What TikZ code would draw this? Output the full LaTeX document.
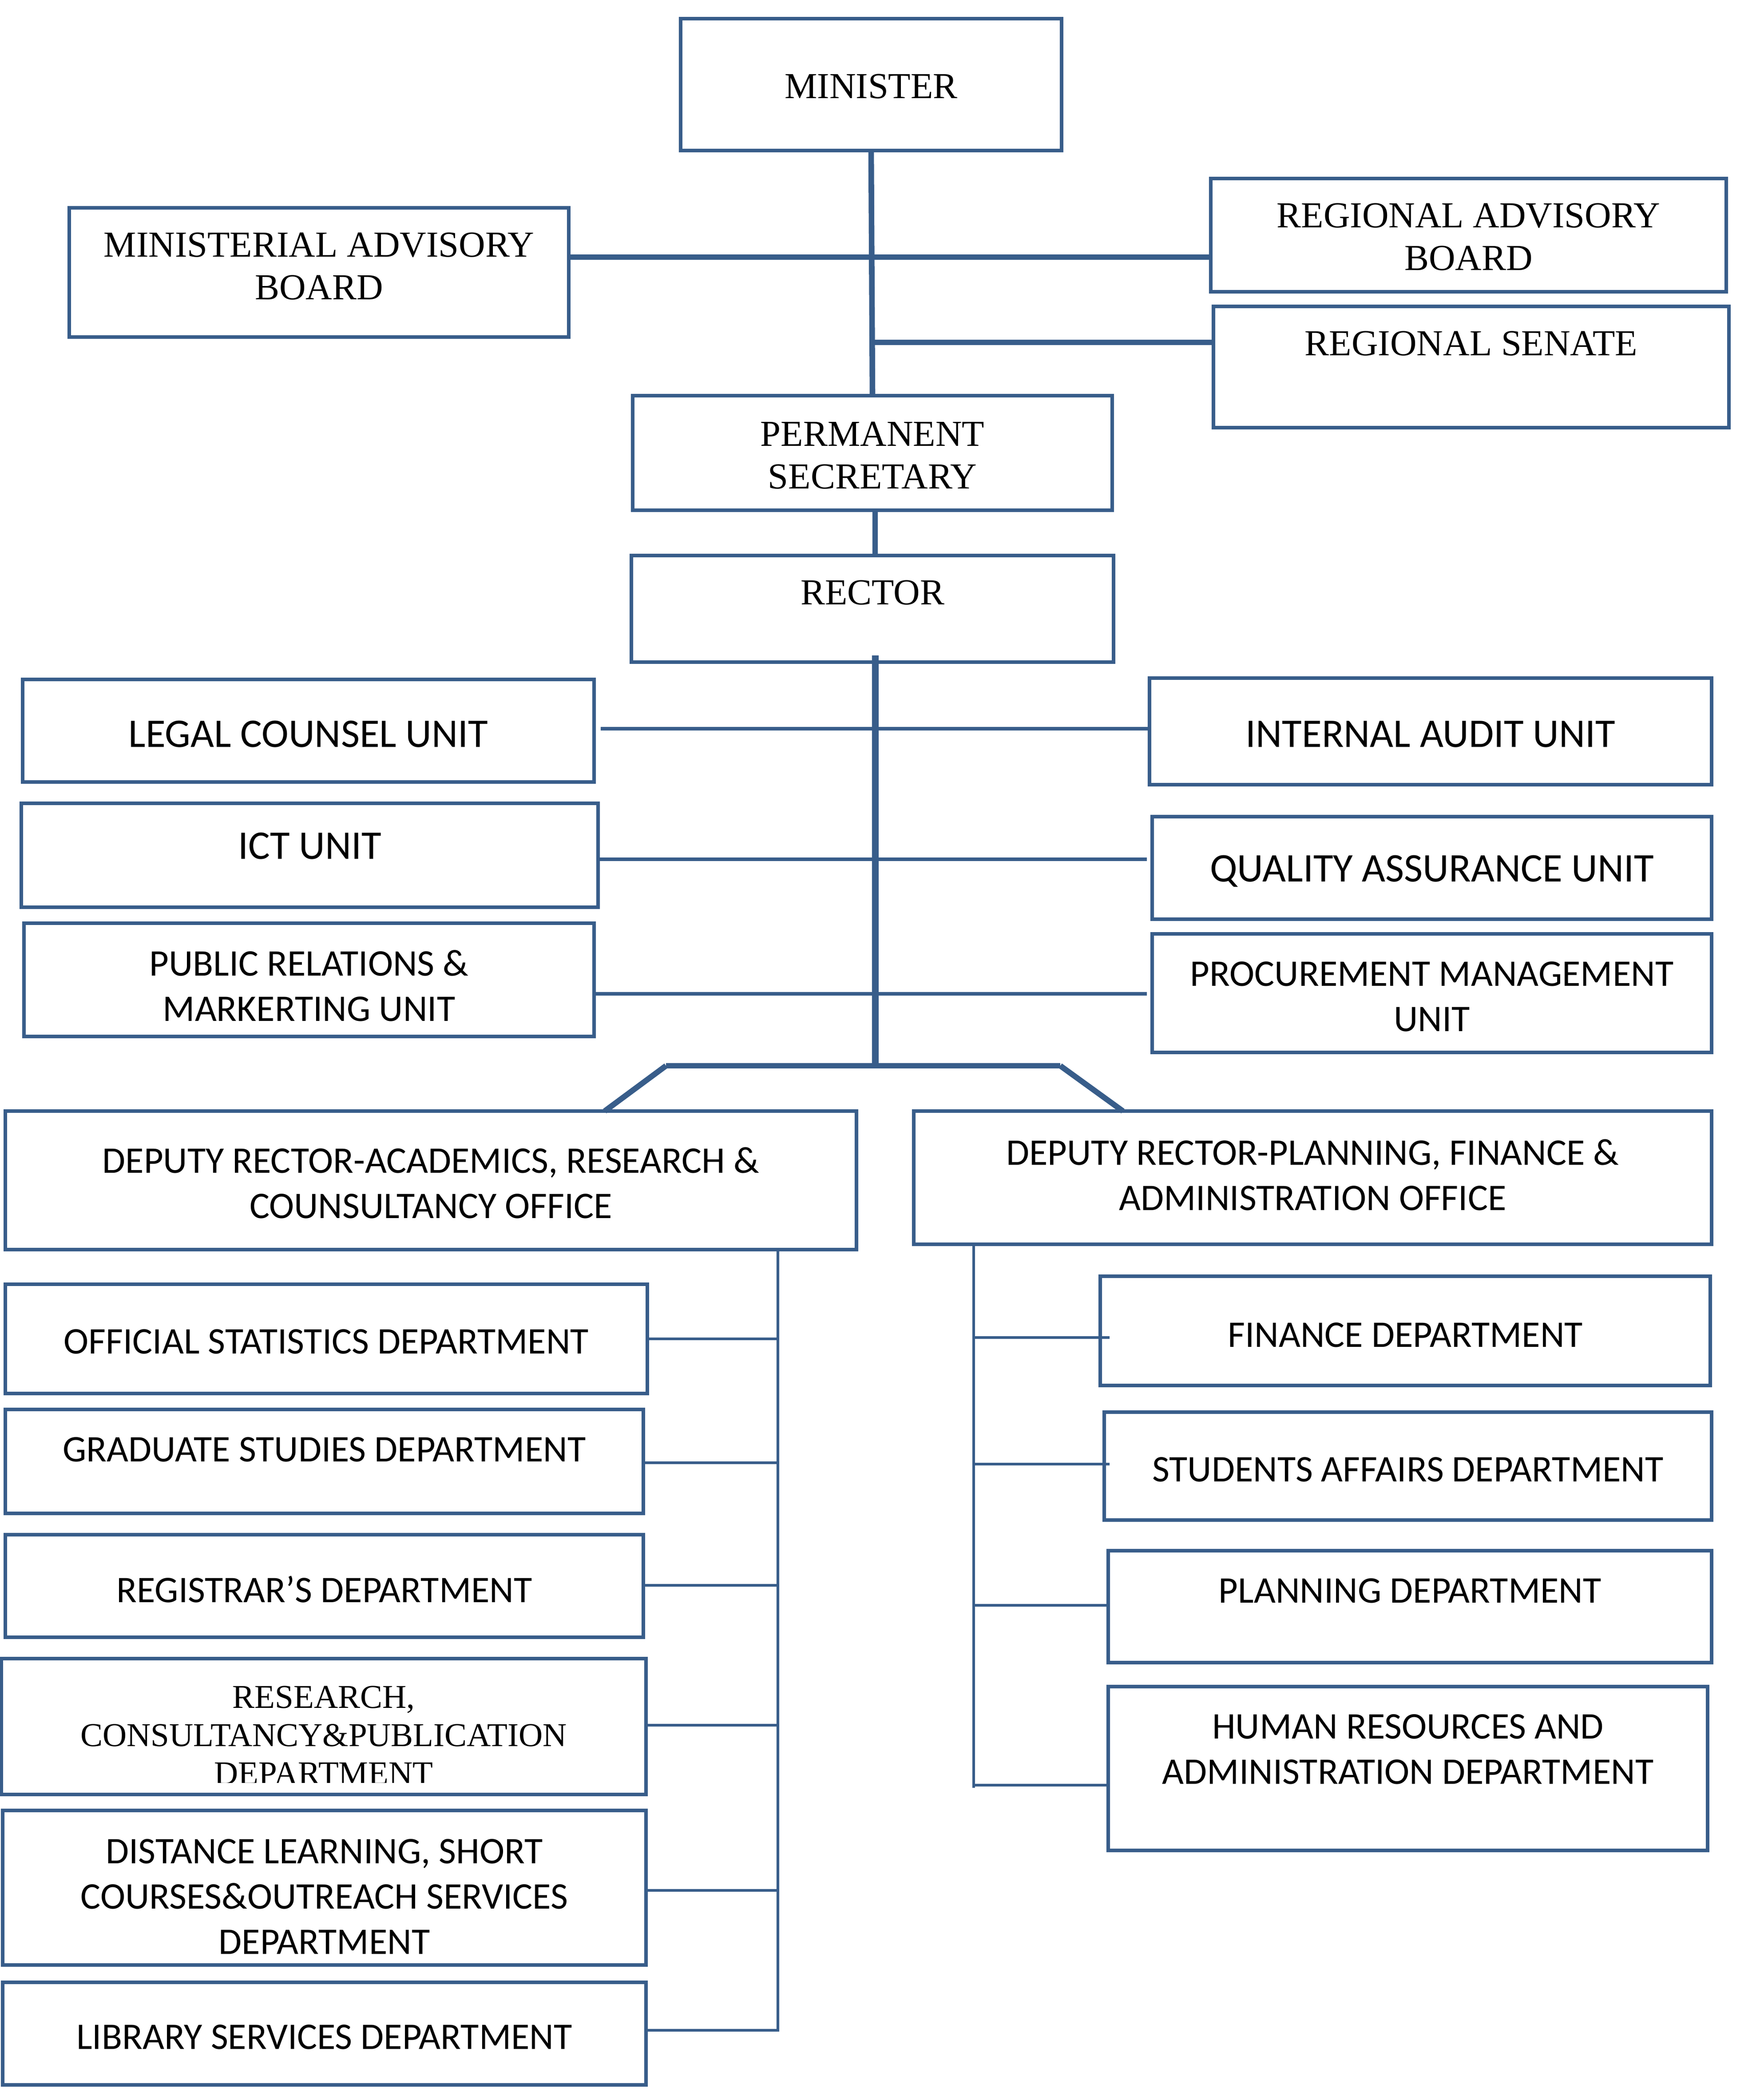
\documentclass[tikz,border=0pt]{standalone}
\usepackage{fontspec}
\setmainfont{Liberation Serif}
\newfontfamily\calfont{Carlito}
\definecolor{bx}{RGB}{56,93,138}
\newcommand\orgbox[8]{%
  \node[obox, minimum width={(#4-#2)*1pt}, minimum height={(#5-#3)*1pt}] (#1) at ({(#2+#4)/2},{(#3+#5)/2}) {};
  \node[#7] (#1-t) at ({(#2+#4)/2},#6) {#8};}
\begin{document}
\begin{tikzpicture}[x=1pt,y=-1pt,
  obox/.style={draw=bx, line width=2.5pt, inner sep=0pt, outer sep=0pt},
  sans/.style={font=\calfont\fontsize{28.2}{34}\selectfont, align=center, inner sep=0pt},
  sansL/.style={font=\calfont\fontsize{30.5}{34}\selectfont, align=center, inner sep=0pt},
  serif/.style={font=\rmfamily\fontsize{27.5}{32}\selectfont, align=center, inner sep=0pt},
  serifs/.style={font=\rmfamily\fontsize{25}{28.6}\selectfont, align=center, inner sep=0pt},
  lnK/.style={draw=bx, line width=4.2pt},
  lnR/.style={draw=bx, line width=5pt},
  lnM/.style={draw=bx, line width=2.4pt},
  lnT/.style={draw=bx, line width=1.8pt}]
\fill[white] (0,0) rectangle (1324.33,1570.33);
\useasboundingbox (0,0) rectangle (1324.33,1570.33);

% top level
\orgbox{min}{511}{14}{797}{113}{65}{serif}{MINISTER}
\orgbox{mab}{52}{156}{427}{253}{200}{serif}{MINISTERIAL ADVISORY\\BOARD}
\orgbox{rab}{909}{134}{1296}{219}{178}{serif}{REGIONAL ADVISORY\\BOARD}
\orgbox{rs}{911}{230}{1298}{321}{258}{serif}{REGIONAL SENATE}
\orgbox{ps}{475}{297}{835}{383}{342}{serif}{PERMANENT\\SECRETARY}
\orgbox{rec}{474}{417}{836}{497}{445}{serif}{RECTOR}

% units
\orgbox{lc}{17}{510}{446}{587}{551}{sansL}{LEGAL COUNSEL UNIT}
\orgbox{ia}{863}{509}{1285}{589}{551}{sansL}{INTERNAL AUDIT UNIT}
\orgbox{ict}{16}{603}{449}{681}{635}{sansL}{ICT UNIT}
\orgbox{qa}{865}{613}{1285}{690}{654}{sansL}{QUALITY ASSURANCE UNIT}
\orgbox{pr}{18}{693}{446}{778}{740}{sans}{PUBLIC RELATIONS \&\\MARKERTING UNIT}
\orgbox{pm}{865}{701}{1285}{790}{748}{sans}{PROCUREMENT MANAGEMENT\\UNIT}

% deputy rectors
\orgbox{dra}{4}{834}{643}{938}{888}{sans}{DEPUTY RECTOR-ACADEMICS, RESEARCH \&\\COUNSULTANCY OFFICE}
\orgbox{drp}{686}{834}{1285}{934}{882}{sans}{DEPUTY RECTOR-PLANNING, FINANCE \&\\ADMINISTRATION OFFICE}

% left departments
\orgbox{osd}{4}{964}{486}{1046}{1007}{sans}{OFFICIAL STATISTICS DEPARTMENT}
\orgbox{gsd}{4}{1058}{483}{1136}{1088}{sans}{GRADUATE STUDIES DEPARTMENT}
\orgbox{reg}{4}{1152}{483}{1229}{1193}{sans}{REGISTRAR’S DEPARTMENT}
\node[obox, minimum width=484pt, minimum height=102pt] (rcp) at (243,1296) {};
\begin{scope}
  \clip (0,1240) rectangle (490,1338);
  \node[serifs] (rcp-t) at (243,1302.5) {RESEARCH,\\CONSULTANCY\&PUBLICATION\\DEPARTMENT};
\end{scope}
\orgbox{dls}{2}{1359}{485}{1475}{1423.5}{sans}{DISTANCE LEARNING, SHORT\\COURSES\&OUTREACH SERVICES\\DEPARTMENT}
\orgbox{lib}{2}{1488}{485}{1565}{1529}{sans}{LIBRARY SERVICES DEPARTMENT}

% right departments
\orgbox{fin}{826}{958}{1284}{1040}{1002}{sans}{FINANCE DEPARTMENT}
\orgbox{sa}{829}{1060}{1285}{1141}{1103}{sans}{STUDENTS AFFAIRS DEPARTMENT}
\orgbox{pl}{832}{1164}{1285}{1248}{1194}{sans}{PLANNING DEPARTMENT}
\orgbox{hr}{832}{1266}{1282}{1389}{1313}{sans}{HUMAN RESOURCES AND\\ADMINISTRATION DEPARTMENT}

% connectors: top
\draw[lnK] (min.south) -- (ps.north);
\draw[lnK] (mab.east |- 0,193) -- (rab.west |- 0,193);
\coordinate (j1) at (656,257);
\draw[lnK] (j1) -- (rs.west |- 0,257);
\draw[lnK] (ps.south -| 657,0) -- (rec.north -| 657,0);

% rector spine
\coordinate (rtop) at (657,492);
\coordinate (rbot) at (657,800);
\draw[lnR] (rtop) -- (rbot);
\draw[lnM] (lc.east |- 0,547) ++(5,0) -- (ia.west |- 0,547);
\draw[lnM] (ict.east |- 0,645) -- ([xshift=-4pt]qa.west |- 0,645);
\draw[lnM] (pr.east |- 0,746) -- ([xshift=-4pt]pm.west |- 0,746);

% split to deputies
\coordinate (bl) at (500,800);
\coordinate (br) at (796,800);
\draw[lnK] (bl) -- (br);
\draw[lnK] (bl) -- (454,0 |- dra.north);
\draw[lnK] (br) -- (843,0 |- drp.north);

% left department tree
\draw[lnT] (lib.east |- 0,1524) -- (584,1524) -- (584,0 |- dra.south);
\draw[lnT] (osd.east) -- (osd.east -| 584,0);
\draw[lnT] (gsd.east |- 0,1098) -- (584,1098);
\draw[lnT] (reg.east |- 0,1190) -- (584,1190);
\draw[lnT] (rcp.east |- 0,1295) -- (584,1295);
\draw[lnT] (dls.east |- 0,1419) -- (584,1419);

% right department tree
\draw[lnT] (731,0 |- drp.south) -- (731,1342);
\draw[lnT] (731,1004) -- ([xshift=7pt]fin.west |- 0,1004);
\draw[lnT] (731,1099) -- ([xshift=4pt]sa.west |- 0,1099);
\draw[lnT] (731,1205) -- (pl.west |- 0,1205);
\draw[lnT] (731,1340) -- (hr.west |- 0,1340);
\end{tikzpicture}
\end{document}
